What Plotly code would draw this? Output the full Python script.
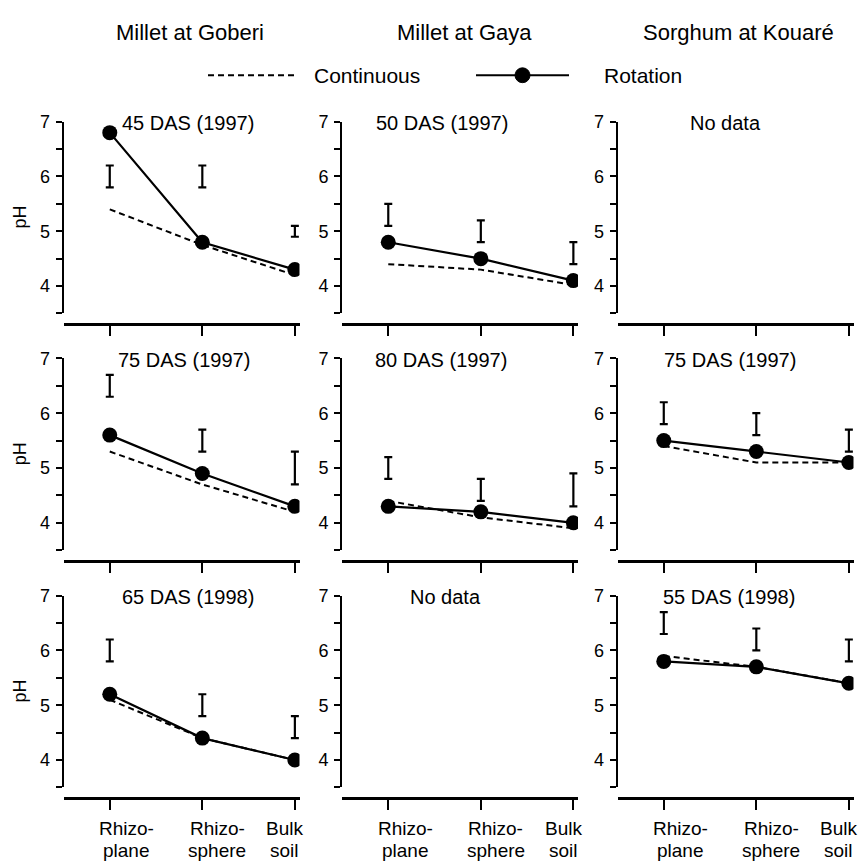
import plotly.graph_objects as go

# ---------------- data ----------------
categories = [0, 1, 2]
cat_line1 = ["Rhizo-", "Rhizo-", "Bulk"]
cat_line2 = ["plane", "sphere", "soil"]
col_titles = ["Millet at Goberi", "Millet at Gaya", "Sorghum at Kouaré"]

panel_labels = {
    (0, 0): "45 DAS (1997)", (0, 1): "50 DAS (1997)", (0, 2): "No data",
    (1, 0): "75 DAS (1997)", (1, 1): "80 DAS (1997)", (1, 2): "75 DAS (1997)",
    (2, 0): "65 DAS (1998)", (2, 1): "No data", (2, 2): "55 DAS (1998)",
}
rotation = {
    (0, 0): [6.8, 4.8, 4.3], (0, 1): [4.8, 4.5, 4.1],
    (1, 0): [5.6, 4.9, 4.3], (1, 1): [4.3, 4.2, 4.0], (1, 2): [5.5, 5.3, 5.1],
    (2, 0): [5.2, 4.4, 4.0], (2, 2): [5.8, 5.7, 5.4],
}
continuous = {
    (0, 0): [5.4, 4.75, 4.2], (0, 1): [4.4, 4.3, 4.02],
    (1, 0): [5.3, 4.7, 4.2], (1, 1): [4.4, 4.1, 3.9], (1, 2): [5.4, 5.1, 5.1],
    (2, 0): [5.1, 4.4, 4.0], (2, 2): [5.9, 5.7, 5.4],
}
lsd_low = {
    (0, 0): [5.8, 5.8, 4.9], (0, 1): [5.1, 4.8, 4.4],
    (1, 0): [6.3, 5.3, 4.7], (1, 1): [4.8, 4.4, 4.3], (1, 2): [5.8, 5.6, 5.3],
    (2, 0): [5.8, 4.8, 4.4], (2, 2): [6.3, 6.0, 5.8],
}
lsd_high = {
    (0, 0): [6.2, 6.2, 5.1], (0, 1): [5.5, 5.2, 4.8],
    (1, 0): [6.7, 5.7, 5.3], (1, 1): [5.2, 4.8, 4.9], (1, 2): [6.2, 6.0, 5.7],
    (2, 0): [6.2, 5.2, 4.8], (2, 2): [6.7, 6.4, 6.2],
}

# ---------------- layout geometry (pixels) ----------------
W, H = 860, 865
col_left = [63.5, 342, 617.5]
panel_w = 236
row_top = [113, 352.5, 592.5]
panel_h = 194
xaxis_gap = 11
label_pos = {
    (0, 0): 0.84, (0, 1): 0.58, (0, 2): 0.67,
    (1, 0): 0.80, (1, 1): 0.57, (1, 2): 0.72,
    (2, 0): 0.85, (2, 1): 0.62, (2, 2): 0.71,
}
cat_shift = [17, 15, -10]
FONT = "Liberation Sans, Arial, sans-serif"

def px(x):
    return x / W

def py(y):
    return 1 - y / H

fig = go.Figure()
layout = dict(
    width=W, height=H, margin=dict(l=0, r=0, t=0, b=0),
    paper_bgcolor="white", plot_bgcolor="white", showlegend=False,
    font=dict(family=FONT, color="black", size=18),
)
annotations = []
shapes = []

for r in range(3):
    for c in range(3):
        i = r * 3 + c + 1
        xa = "x" if i == 1 else f"x{i}"
        ya = "y" if i == 1 else f"y{i}"
        xkey = "xaxis" if i == 1 else f"xaxis{i}"
        ykey = "yaxis" if i == 1 else f"yaxis{i}"
        L = col_left[c]
        T = row_top[r]
        xline = T + panel_h + xaxis_gap
        layout[xkey] = dict(
            domain=[px(L), px(L + panel_w)], range=[-0.5, 2.05],
            anchor="free", position=py(xline),
            showline=True, linewidth=3, linecolor="black",
            ticks="outside", ticklen=10, tickwidth=2, tickcolor="black",
            tickvals=categories, showticklabels=False,
            showgrid=False, zeroline=False,
        )
        layout[ykey] = dict(
            domain=[py(T + panel_h), py(T)], range=[3.5, 7], anchor=xa,
            showline=True, linewidth=2, linecolor="black",
            ticks="outside", ticklen=6, tickwidth=2, tickcolor="black",
            tickvals=[4, 5, 6, 7], tickfont=dict(size=18), ticklabelstandoff=2,
            minor=dict(tickvals=[3.5, 4.5, 5.5, 6.5], ticks="outside",
                       ticklen=6, tickwidth=2, tickcolor="black"),
            showgrid=False, zeroline=False,
        )
        key = (r, c)
        if key in rotation:
            fig.add_trace(go.Scatter(
                x=categories, y=continuous[key], xaxis=xa, yaxis=ya,
                mode="lines", line=dict(color="black", width=2, dash="6px,4px"),
                hoverinfo="skip"))
            fig.add_trace(go.Scatter(
                x=categories, y=rotation[key], xaxis=xa, yaxis=ya,
                mode="lines+markers", line=dict(color="black", width=2.2),
                marker=dict(color="black", size=15), hoverinfo="skip"))
            mid = [(a + b) / 2 for a, b in zip(lsd_low[key], lsd_high[key])]
            half = [(b - a) / 2 for a, b in zip(lsd_low[key], lsd_high[key])]
            fig.add_trace(go.Scatter(
                x=categories, y=mid, xaxis=xa, yaxis=ya, mode="markers",
                marker=dict(size=1, color="rgba(0,0,0,0)"),
                error_y=dict(type="data", array=half, symmetric=True,
                             color="black", thickness=2.2, width=4),
                hoverinfo="skip"))
        annotations.append(dict(
            x=label_pos[key], y=6.97, xref=xa, yref=ya, text=panel_labels[key],
            showarrow=False, xanchor="center", yanchor="middle",
            font=dict(size=20)))
        if r == 2:
            for k, cat in enumerate(categories):
                annotations.append(dict(
                    x=cat, y=py(xline + 31), xref=xa, yref="paper",
                    text=cat_line1[k], showarrow=False, xanchor="center",
                    yanchor="middle", xshift=cat_shift[k], font=dict(size=19)))
                annotations.append(dict(
                    x=cat, y=py(xline + 53), xref=xa, yref="paper",
                    text=cat_line2[k], showarrow=False, xanchor="center",
                    yanchor="middle", xshift=cat_shift[k], font=dict(size=19)))
    annotations.append(dict(
        x=px(20), y=py(row_top[r] + panel_h / 2), xref="paper", yref="paper",
        text="pH", textangle=-90, showarrow=False, xanchor="center",
        yanchor="middle", font=dict(size=18)))

title_x = [190, 464, 738]
for c in range(3):
    annotations.append(dict(
        x=px(title_x[c]), y=py(23), xref="paper", yref="paper",
        text=col_titles[c], showarrow=False, xanchor="center",
        yanchor="middle", font=dict(size=22)))

# legend
LY = 66
shapes.append(dict(type="line", xref="paper", yref="paper",
                   x0=px(208), x1=px(297), y0=py(LY), y1=py(LY),
                   line=dict(color="black", width=2, dash="6px,4px")))
annotations.append(dict(x=px(312), y=py(LY), xref="paper", yref="paper",
                        text="Continuous", showarrow=False, xanchor="left",
                        yanchor="middle", font=dict(size=21)))
shapes.append(dict(type="line", xref="paper", yref="paper",
                   x0=px(476), x1=px(569), y0=py(LY), y1=py(LY),
                   line=dict(color="black", width=2.2)))
shapes.append(dict(type="circle", xref="paper", yref="paper",
                   x0=px(515), x1=px(530), y0=py(LY + 7.5), y1=py(LY - 7.5),
                   fillcolor="black", line=dict(color="black", width=1)))
annotations.append(dict(x=px(602), y=py(LY), xref="paper", yref="paper",
                        text="Rotation", showarrow=False, xanchor="left",
                        yanchor="middle", font=dict(size=21)))

layout["annotations"] = annotations
layout["shapes"] = shapes
fig.update_layout(**layout)
fig.write_html(
    "out.html",
    config={"displayModeBar": False},
    post_script="document.body.style.margin='0';document.body.style.overflow='hidden';",
)
